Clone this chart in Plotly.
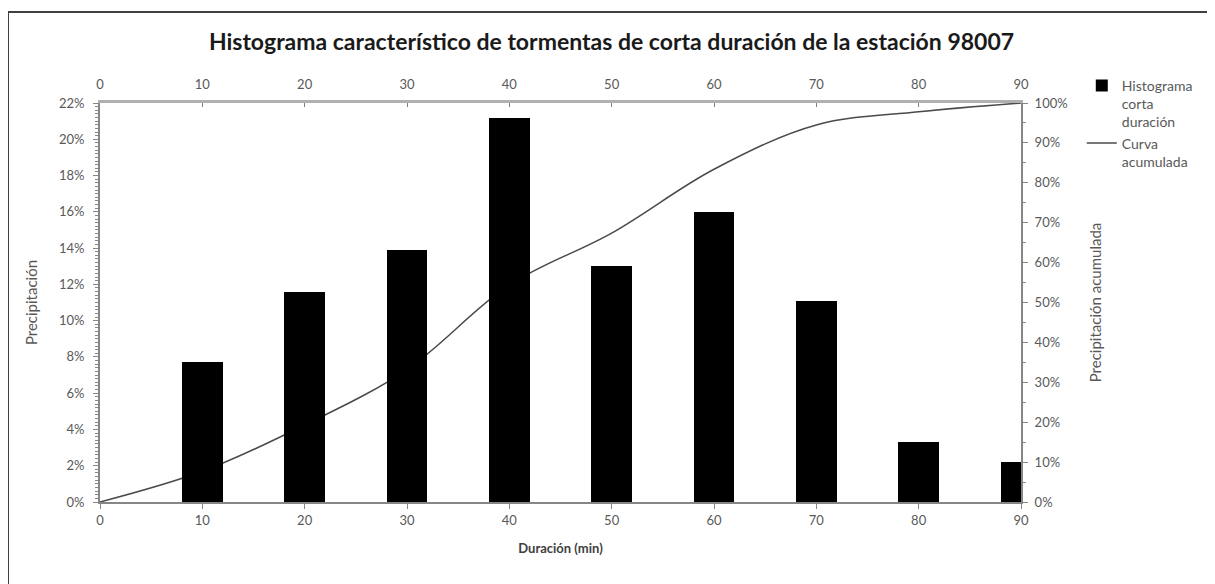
import plotly.graph_objects as go

# Data
duracion = [10, 20, 30, 40, 50, 60, 70, 80, 90]
precip_pct = [7.7, 11.6, 13.9, 21.2, 13.0, 16.0, 11.1, 3.3, 2.2]
curva_x = [0, 10, 20, 30, 40, 50, 60, 70, 80, 90]
curva_pct = [0, 7.7, 19.3, 33.2, 54.4, 67.4, 83.4, 94.5, 97.8, 100]

left_ticks = list(range(0, 23, 2))
right_ticks = list(range(0, 101, 10))
x_ticks = list(range(0, 91, 10))

FONT = "Lato"
TICK_COLOR = "#595959"
TICK_SIZE = 13

fig = go.Figure()

fig.add_trace(go.Scatter(
    x=curva_x, y=curva_pct, name="Curva<br>acumulada",
    mode="lines", line=dict(color="#4a4a4a", width=1.5, shape="spline", smoothing=1),
    xaxis="x", yaxis="y",
))
fig.add_trace(go.Bar(
    x=duracion, y=precip_pct, name="Histograma<br>corta<br>duración",
    marker=dict(color="black", line=dict(width=0)), width=4,
    xaxis="x", yaxis="y2",
))
# carrier trace so the secondary (top) duration axis is drawn
fig.add_trace(go.Scatter(
    x=[x_ticks[0], x_ticks[-1]], y=[None, None], mode="lines",
    showlegend=False, hoverinfo="skip", xaxis="x2", yaxis="y",
))

fig.update_layout(
    width=1207, height=576,
    margin=dict(l=92, r=194, t=95, b=82, autoexpand=False),
    paper_bgcolor="white", plot_bgcolor="white",
    font=dict(family=FONT, size=TICK_SIZE, color=TICK_COLOR),
    title=dict(
        text="<b>Histograma característico de tormentas de corta duración de la estación 98007</b>",
        x=0.5, xanchor="center", y=0.941, yanchor="middle",
        font=dict(family=FONT, size=23, color="#1a1a1a"),
    ),
    showlegend=True,
    legend=dict(
        x=1.066, xanchor="left", y=1.083, yanchor="top",
        font=dict(family=FONT, size=14, color=TICK_COLOR),
        bgcolor="rgba(0,0,0,0)", traceorder="reversed", valign="top",
    ),
    xaxis=dict(
        range=[0, 90], tickvals=x_ticks, ticktext=[str(v) for v in x_ticks],
        showgrid=False, zeroline=False, showline=True, linecolor="#868686", linewidth=2,
        ticks="outside", ticklen=5, tickcolor="#868686", tickwidth=1,
        tickfont=dict(size=TICK_SIZE, color=TICK_COLOR),
        title=dict(text="<b>Duración (min)</b>", standoff=17,
                   font=dict(size=13, color="#404040")),
        automargin=False,
    ),
    xaxis2=dict(
        range=[0, 90], overlaying="x", side="top", tickvals=x_ticks,
        ticktext=[str(v) for v in x_ticks],
        showgrid=False, zeroline=False, showline=True, linecolor="#b0b0b0", linewidth=3,
        ticks="inside", ticklen=4, tickcolor="#808080", tickwidth=1,
        ticklabelstandoff=6,
        tickfont=dict(size=TICK_SIZE, color=TICK_COLOR), automargin=False,
    ),
    yaxis=dict(
        range=[0, 100], side="right", tickvals=right_ticks,
        ticktext=[f"{v}%" for v in right_ticks],
        showgrid=False, zeroline=False, showline=True, linecolor="#868686", linewidth=2,
        ticks="outside", ticklen=5, tickcolor="#868686",
        ticklabelstandoff=4,
        minor=dict(dtick=5, ticks="outside", ticklen=3, tickcolor="#868686", showgrid=False),
        tickfont=dict(size=TICK_SIZE, color=TICK_COLOR),
        title=dict(text="Precipitación acumulada", standoff=24,
                   font=dict(size=15, color="#595959")),
        automargin=False,
    ),
    yaxis2=dict(
        range=[0, 22], overlaying="y", side="left", tickvals=left_ticks,
        ticktext=[f"{v}%" for v in left_ticks],
        showgrid=False, zeroline=False, showline=True, linecolor="#868686", linewidth=2,
        ticks="outside", ticklen=5, tickcolor="#868686",
        ticklabelstandoff=6,
        minor=dict(dtick=0.2, ticks="outside", ticklen=3, tickcolor="#868686", showgrid=False),
        tickfont=dict(size=TICK_SIZE, color=TICK_COLOR),
        title=dict(text="Precipitación", standoff=18,
                   font=dict(size=15, color="#595959")),
        automargin=False,
    ),
    bargap=0,
    shapes=[
        dict(type="rect", xref="paper", yref="paper",
             x0=-0.0999, x1=1.3, y0=-0.3, y1=1.228,
             line=dict(color="#404040", width=2), fillcolor="rgba(0,0,0,0)", layer="below"),
    ],
)

fig.write_html("out.html")
